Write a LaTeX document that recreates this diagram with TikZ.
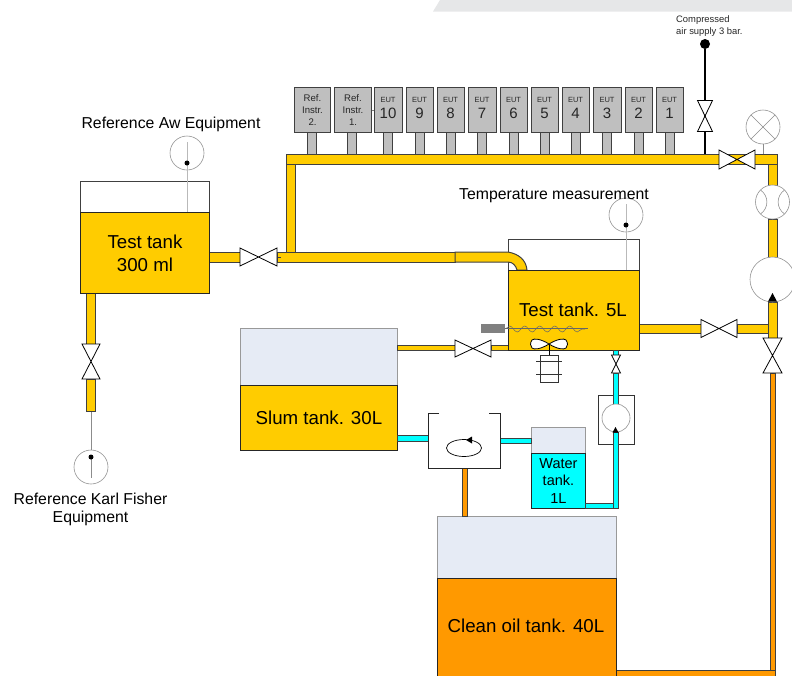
\documentclass[tikz,border=0pt]{standalone}
\usepackage{fontspec}
\setmainfont{Liberation Sans}
\usetikzlibrary{decorations.pathmorphing}
\definecolor{oilY}{HTML}{FFCC00}
\definecolor{oilO}{HTML}{FF9900}
\definecolor{wat}{HTML}{00FFFF}
\definecolor{air}{HTML}{E6EBF5}
\definecolor{eut}{HTML}{BFBFBF}
\definecolor{edge}{HTML}{404040}
\definecolor{band}{HTML}{E6E7E8}
\tikzset{
  x=1pt,y=-1pt,
  pipeline/.style={draw=edge,line width=1pt,line join=miter},
  ypipe/.style={pipeline,fill=oilY},
  opipe/.style={pipeline,fill=oilO},
  cpipe/.style={pipeline,fill=wat},
  gstub/.style={draw=edge,line width=1pt,fill=eut},
  boxlabel/.style={font=\fontsize{9.6}{11.8}\selectfont,align=center},
  eutbox/.style={draw=edge,line width=1pt,fill=eut,minimum height=45pt,inner sep=0pt,anchor=north west},
  tankair/.style={draw=edge,line width=.8pt,fill=white,inner sep=0pt,anchor=north west},
  tankair2/.style={draw=gray!80,line width=.8pt,fill=air,inner sep=0pt,anchor=north west},
  liquid/.style={draw=black!85,line width=.9pt,inner sep=0pt,anchor=north west,align=center,font=\fontsize{18.7}{23}\selectfont},
  valve/.style={draw=black,line width=.8pt,fill=white,line join=miter},
  dial/.style={draw=gray!85,line width=.6pt,fill=white,circle,inner sep=0pt,minimum size=34pt},
  probe/.style={draw=gray!55,line width=1pt},
  lead/.style={draw=gray!90,line width=.6pt},
  dot/.style={fill=black,circle,inner sep=0pt},
  caption/.style={font=\fontsize{15.8}{18}\selectfont,align=center},
  smallcap/.style={font=\fontsize{9.4}{12}\selectfont,align=left,anchor=north west,inner sep=0pt,text=black!85}
}
\newcommand{\hvalve}[4]{% cx cy halfw halfh
  \draw[valve] (#1-#3,#2-#4) -- (#1+#3,#2+#4) -- (#1+#3,#2-#4) -- (#1-#3,#2+#4) -- cycle;}
\newcommand{\vvalve}[4]{% cx cy halfw halfh
  \draw[valve] (#1-#3,#2-#4) -- (#1+#3,#2-#4) -- (#1-#3,#2+#4) -- (#1+#3,#2+#4) -- cycle;}
\newcommand{\euts}[4]{% name, left, width, number
  \draw[gstub] ({#2+#3/2-4.5},132) rectangle ({#2+#3/2+4.5},154);
  \node[eutbox,minimum width=#3pt] (#1) at (#2,87) {};
  \node[font=\fontsize{7.5}{9}\selectfont,text=black!85] (#1a) at ({#2+#3/2},100) {EUT};
  \node[font=\fontsize{15}{18}\selectfont,text=black!85] (#1b) at ({#2+#3/2},113) {#4};}
\begin{document}
\begin{tikzpicture}
\useasboundingbox (0,0) rectangle (792,675);
\begin{scope}
\clip (0,0) rectangle (792,675);
\fill[band] (433,11.5) -- (440,0) -- (792,0) -- (792,11.5) -- cycle;

% gauges and probes behind
\node[dial] (gaugeA) at (187,153) {};
\node[dial] (gaugeT) at (626,215) {};
\node[dial] (gaugeK) at (91,467) {};
\node[dial] (lamp) at (763,127) {};

% tanks: air parts
\node[tankair,minimum width=129pt,minimum height=32pt] (airA) at (80,181) {};
\node[tankair,minimum width=131pt,minimum height=32pt] (airT) at (508,239) {};
\node[tankair2,minimum width=157pt,minimum height=58pt] (airS) at (240,328) {};
\node[tankair2,minimum width=54pt,minimum height=27pt] (airW) at (531,427) {};
\node[tankair2,minimum width=179pt,minimum height=63pt] (airO) at (437,516) {};

\draw[probe] (187,142) -- (187,212);
\draw[probe] (626,204) -- (626,270);
\draw[lead] (91,411) -- (gaugeK.north);
\draw[lead] (91,457) -- (91,478);
\node[dot,minimum size=5pt] (dotA) at (187,163) {};
\node[dot,minimum size=5pt] (dotT) at (626,225) {};
\node[dot,minimum size=5pt] (dotK) at (91,457) {};
\draw[lead] (lamp.45) -- (lamp.225);
\draw[lead] (lamp.135) -- (lamp.315);
\draw[lead] (lamp.south) -- (763,154);

% oil supply pipes
\draw[opipe] (770,373) rectangle (775,680);
\draw[opipe] (610,670) rectangle (775,680);
\draw[opipe] (462,468) rectangle (467,516);

% yellow pipes
\draw[ypipe] (86,293) rectangle (95.5,344);
\draw[ypipe] (86,379) rectangle (95.5,411);
\draw[ypipe] (209,252) rectangle (240,262);
\draw[ypipe] (286,160) rectangle (295,253);
\draw[ypipe] (277,252) rectangle (455,262);
\draw[ypipe] (455,252) -- (508,252) .. controls (519,254) and (526,260) .. (527,270) -- (517,270) .. controls (516,266) and (513,262) .. (508,262) -- (455,262) -- cycle;
\draw[edge,line width=.8pt] (277,257) -- (281,257);
\draw[ypipe] (768,160) rectangle (777,185);
\draw[ypipe] (768,219) rectangle (777,257);
\draw[ypipe] (286,154) rectangle (777,164);
\draw[ypipe] (639,324) rectangle (701,333);
\draw[ypipe] (737,324) rectangle (769,333);
\draw[ypipe] (768,302) rectangle (777,338);
\draw[ypipe] (397,345) rectangle (455,350);
\draw[ypipe] (491,345) rectangle (508,350);

% liquid parts of tanks
\node[liquid,fill=oilY,minimum width=129pt,minimum height=81pt] (tankA) at (80,212) {Test tank\\300 ml};
\node[liquid,fill=oilY,minimum width=131pt,minimum height=80pt] (tankT) at (508,270) {};
\node[font=\fontsize{18.7}{23}\selectfont] (tankTlabel) at (573,310) {Test tank. 5L};
\node[liquid,fill=oilY,minimum width=157pt,minimum height=65pt] (tankS) at (240,385) {Slum tank. 30L};
\node[liquid,fill=wat,font=\fontsize{14.5}{17.5}\selectfont,minimum width=54pt,minimum height=55pt] (tankW) at (531,453) {Water\\tank.\\1L};
\node[liquid,fill=oilO,minimum width=179pt,minimum height=110pt] (tankO) at (437,578) {};
\node[font=\fontsize{18.7}{23}\selectfont] (tankOlabel) at (526,626) {Clean oil tank. 40L};

% manifold instruments
\draw[gstub] (307.5,132) rectangle (316.5,154);
\draw[gstub] (347.5,132) rectangle (356.5,154);
\node[eutbox,minimum width=36pt,boxlabel,text=black!85] (ref2) at (294,87) {Ref.\\Instr.\\2.};
\node[eutbox,minimum width=37pt,boxlabel,text=black!85] (ref1) at (334,87) {Ref.\\Instr.\\1.};
\euts{e10}{374}{28}{10}
\euts{e9}{406}{27}{9}
\euts{e8}{437}{27}{8}
\euts{e7}{468}{28}{7}
\euts{e6}{500}{27}{6}
\euts{e5}{531}{27}{5}
\euts{e4}{562}{27}{4}
\euts{e3}{593}{28}{3}
\euts{e2}{625}{27}{2}
\euts{e1}{656}{27}{1}
\draw[gray,line width=.5pt] (ref1.east) -- (e10.west);

% compressed air
\node[dot,minimum size=10pt] (airsrc) at (705,44) {};
\draw[black,line width=1.5pt] (airsrc) -- (705,154);
\vvalve{705}{116}{7.5}{15.5}
\node[smallcap] (airtxt) at (676,15) {Compressed\\air supply 3 bar.};

% valves
\hvalve{737}{159.5}{18}{9.5}
\hvalve{258.5}{257}{18.5}{9}
\vvalve{91}{361.5}{9}{17.5}
\hvalve{473}{348.5}{18}{8.5}
\hvalve{719}{328.5}{18}{9}
\vvalve{772.5}{355.5}{9.5}{17.5}

% rotating equipment
\node[draw=gray!85,line width=.6pt,fill=white,circle,inner sep=0pt,minimum size=45pt] (pumpB) at (772.5,279.5) {};
\fill[black] (772.5,293) -- (768,301.5) -- (777,301.5) -- cycle;
\node[dial] (flow) at (772.5,202) {};
\draw[gray!85,line width=.6pt] (760.5,190) .. controls (769,196) and (769,208) .. (760.5,214);
\draw[gray!85,line width=.6pt] (784.5,190) .. controls (776,196) and (776,208) .. (784.5,214);

% heater
\fill[gray] (481,324) rectangle (505,333);
\draw[gray!80!black,line width=.5pt] (505,328.5) -- (588,328.5);
\draw[gray!80!black,line width=.5pt,decorate,decoration={snake,amplitude=3pt,segment length=15pt}] (505,329) -- (585,329);

% impeller and motor
\draw[black,line width=.8pt] (549,344) -- (549,355);
\draw[black,line width=.8pt,fill=white] (549,344) .. controls (541,339) and (534,338) .. (532,340) .. controls (530,343) and (530,346) .. (532,348) .. controls (534,350) and (541,349) .. (549,344) .. controls (557,339) and (564,338) .. (566,340) .. controls (568,343) and (568,346) .. (566,348) .. controls (564,350) and (557,349) .. (549,344) -- cycle;
\draw[black!80,line width=.8pt,fill=white] (540,355) rectangle (558,382);
\draw[black!80,line width=.8pt] (536,361) -- (562,361);
\draw[black!80,line width=.8pt] (536,374) -- (562,374);

% water circuit
\draw[cpipe] (613,350) rectangle (618,355);
\vvalve{616}{364}{4.5}{9}
\draw[draw=black!80,line width=.8pt,fill=white] (598,395) rectangle (634,444);
\draw[cpipe] (613,373) rectangle (618,405);
\node[draw=gray!85,line width=.6pt,fill=white,circle,inner sep=0pt,minimum size=28pt] (pumpW) at (616,418) {};
\draw[cpipe] (585,503) rectangle (618,508);
\draw[cpipe] (613,432) rectangle (618,508);
\fill[black] (615.5,427) -- (612.5,432.5) -- (618.5,432.5) -- cycle;

% mixer
\draw[cpipe] (397,435) rectangle (428,441);
\draw[cpipe] (500,438) rectangle (531,443);
\fill[white] (428,413) rectangle (500,468);
\draw[black!85,line width=.8pt] (439,413) -- (428,413) -- (428,468) -- (500,468) -- (500,413) -- (489,413);
\draw[black,line width=.7pt] (464,448) ellipse (17.5pt and 8.5pt);
\fill[black] (466,440) -- (472,436.5) -- (472,443.5) -- cycle;

% captions
\node[caption] (capA) at (171,124) {Reference Aw Equipment};
\node[caption] (capT) at (554,196) {Temperature measurement};
\node[caption] (capK) at (90.5,509) {Reference Karl Fisher\\Equipment};
\end{scope}
\end{tikzpicture}
\end{document}
